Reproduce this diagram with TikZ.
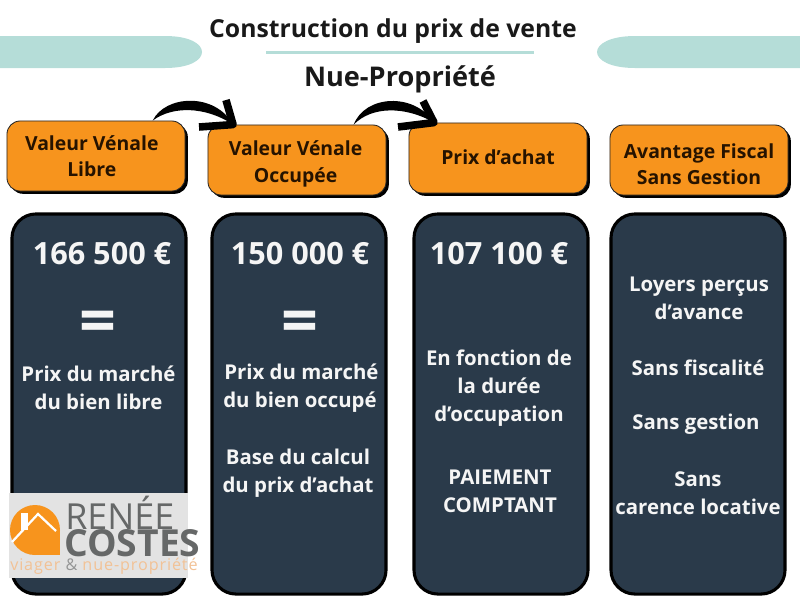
\documentclass[tikz,border=0pt]{standalone}
\usepackage{fontspec}
\usepackage{xcolor}
\setmainfont{Open Sans}
\usetikzlibrary{positioning, arrows.meta, shadows}
\definecolor{orangeboite}{HTML}{F7941D}
\definecolor{bleunuit}{HTML}{2A3A4A}
\definecolor{turquoise}{HTML}{B5DDD8}
\definecolor{grislogo}{HTML}{666868}
\definecolor{orangelogo}{HTML}{F2C296}
\newcommand{\abaisse}{\rule{0pt}{16.5pt}}
\tikzset{
    titre/.style={font=\bfseries\fontsize{17.6}{21}\selectfont, text=black!90, inner sep=0pt},
    boite/.style={rectangle, rounded corners=0.33cm, draw=black!85, line width=0.6pt, fill=orangeboite, minimum width=4.45cm, minimum height=1.75cm, inner sep=0pt, align=center, text=black!85!orange, font=\bfseries\fontsize{13.8}{18.9}\selectfont, general shadow={shadow xshift=0.07cm, shadow yshift=-0.07cm, fill=black}},
    panneau/.style={rectangle, rounded corners=0.6cm, draw=black, line width=2.2pt, fill=bleunuit, minimum width=4.35cm, minimum height=9.5cm, inner sep=0pt},
    texte/.style={align=center, text=white!96!black, inner sep=0pt, font=\bfseries\fontsize{14.5}{19.9}\selectfont},
    montant/.style={text=white!96!black, inner sep=0pt, font=\bfseries\fontsize{21.8}{24}\selectfont},
    egal/.style={text=white!96!black, inner sep=0pt, font=\bfseries\fontsize{46}{46}\selectfont},
    pointe/.style={line width=5.4pt, line join=round},
    bande/.style={fill=turquoise},
}
\begin{document}
\begin{tikzpicture}[x=0.025cm, y=-0.025cm]
    \useasboundingbox (0,0) rectangle (800,600);

    % bandeaux
    \fill[bande] (0,36) -- (165,36) .. controls (190,36) and (202,44) .. (202,52) .. controls (202,60) and (190,68) .. (165,68) -- (0,68) -- cycle;
    \fill[bande] (800,36) -- (635,36) .. controls (610,36) and (597,44) .. (597,52) .. controls (597,60) and (610,68) .. (635,68) -- (800,68) -- cycle;
    \fill[bande] (266,50.5) rectangle (534,53.5);

    \node[titre] (titre) at (393,31) {Construction du prix de vente};
    \node[titre, font=\bfseries\fontsize{19.3}{22}\selectfont] (sousTitre) at (400,79) {Nue-Propriété};

    % boites du haut
    \node[boite] (libre) at (96,156) {Valeur Vénale\hspace*{6pt}\\Libre\hspace*{6pt}};
    \node[boite] (occupee) at (297,160) {\abaisse Valeur Vénale\hspace*{2pt}\\Occupée\hspace*{2pt}};
    \node[boite] (achat) at (498,158) {\raisebox{1.4pt}{Prix d’achat}};
    \node[boite] (avantage) at (699,160) {\abaisse Avantage Fiscal\\Sans Gestion};

    % fleches
    \fill (libre.32) .. controls (165,95) and (215,92) .. (occupee.151) .. controls (205,106) and (172,106) .. (libre.32) -- cycle;
    \draw[pointe] (226,100) -- (occupee.151) -- (199,127);
    \fill (occupee.32) .. controls (365,95) and (414,92) .. (achat.151) .. controls (405,106) and (372,106) .. (occupee.32) -- cycle;
    \draw[pointe] (423,101) -- (achat.151) -- (398,127);

    % panneaux
    \node[panneau] (panneauLibre) at (99,404) {};
    \node[panneau] (panneauOccupee) at (299,404) {};
    \node[panneau] (panneauAchat) at (501,404) {};
    \node[panneau] (panneauAvantage) at (698,404) {};

    \node[montant] (prixLibre) at (102,254) {166 500 €};
    \node[egal] (egalLibre) at (98,327) {=};
    \node[texte] (texteLibre) at (98.5,388) {Prix du marché\\du bien libre};

    \node[montant] (prixOccupee) at (300,254) {150 000 €};
    \node[egal] (egalOccupee) at (300,327) {=};
    \node[texte] (texteOccupee) at (300,388) {\hspace{2pt}Prix du marché\\du bien occupé};
    \node[texte] (baseOccupee) at (298,473) {Base du calcul\\du prix d’achat};

    \node[montant] (prixAchat) at (499,254) {107 100 €};
    \node[texte] (texteAchat) at (499,388) {En fonction de\\la durée\\d’occupation};
    \node[texte] (paiementAchat) at (500,491) {PAIEMENT\\COMPTANT};

    \node[texte] (loyers) at (699,298) {Loyers perçus\\d’avance};
    \node[texte] (fiscalite) at (698,368) {Sans fiscalité};
    \node[texte] (gestion) at (696,424) {Sans gestion};
    \node[texte] (carence) at (698,493) {Sans\\carence locative};

    % logo
    \fill[gray!22] (9,493) rectangle (188,578);
    \fill[orangeboite] (35,530) circle[radius=25];
    \fill[orangeboite] (35,530) rectangle (60,555);
    \fill[white] (21,513) rectangle (28,530);
    \draw[white, line width=1.6pt, line join=miter] (12,542) -- (38,514) -- (56,531);
    \node[inner sep=0pt, anchor=west, text=grislogo, font=\fontsize{25.5}{24}\selectfont] (renee) at (65,513) {RENÉE};
    \node[inner sep=0pt, anchor=west, text=grislogo, font=\bfseries\fontsize{26.5}{24}\selectfont] (costes) at (64,543) {COSTES};
    \node[inner sep=0pt, anchor=west, text=orangelogo, font=\fontsize{11.5}{12}\selectfont\addfontfeature{LetterSpace=5.5}] (slogan) at (10,566) {viager \textcolor{grislogo!70}{\&} nue-propriété};
\end{tikzpicture}
\end{document}
